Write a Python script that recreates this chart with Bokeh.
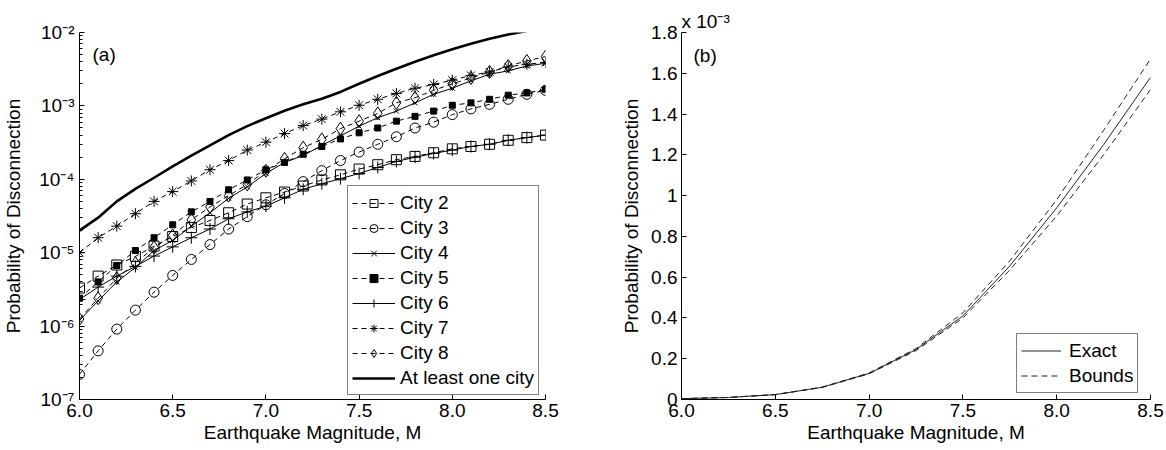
from bokeh.plotting import figure
from bokeh.layouts import row
from bokeh.models import FixedTicker, Label, Legend
from bokeh.embed import file_html
from bokeh.resources import INLINE

# ---------------- data ----------------
mag = [6.0, 6.1, 6.2, 6.3, 6.4, 6.5, 6.6, 6.7, 6.8, 6.9, 7.0, 7.1, 7.2,
       7.3, 7.4, 7.5, 7.6, 7.7, 7.8, 7.9, 8.0, 8.1, 8.2, 8.3, 8.4, 8.5]

city2 = [3.3e-6, 4.8e-6, 6.8e-6, 8.9e-6, 1.23e-5, 1.66e-5, 2.2e-5, 2.75e-5, 3.5e-5,
         4.6e-5, 5.6e-5, 6.7e-5, 8.1e-5, 9.8e-5, 1.15e-4, 1.38e-4, 1.58e-4, 1.85e-4,
         2.05e-4, 2.3e-4, 2.6e-4, 2.8e-4, 3.0e-4, 3.4e-4, 3.7e-4, 4.0e-4]
city3 = [2.2e-7, 4.6e-7, 9.1e-7, 1.65e-6, 2.9e-6, 4.9e-6, 8.1e-6, 1.29e-5, 2.1e-5,
         3.1e-5, 4.5e-5, 6.4e-5, 9.3e-5, 1.31e-4, 1.8e-4, 2.35e-4, 3.0e-4, 3.8e-4,
         5.0e-4, 6.0e-4, 7.6e-4, 9.1e-4, 1.05e-3, 1.23e-3, 1.44e-3, 1.63e-3]
city4 = [1.2e-6, 2.2e-6, 4.0e-6, 6.3e-6, 1.07e-5, 1.47e-5, 2.3e-5, 3.5e-5, 5.5e-5,
         7.9e-5, 1.2e-4, 1.7e-4, 2.1e-4, 2.9e-4, 3.9e-4, 5.3e-4, 6.9e-4, 8.5e-4,
         1.1e-3, 1.44e-3, 1.74e-3, 2.2e-3, 2.7e-3, 3.0e-3, 3.5e-3, 3.8e-3]
city5 = [2.4e-6, 4.0e-6, 6.7e-6, 1.07e-5, 1.6e-5, 2.4e-5, 3.6e-5, 5.0e-5, 7.2e-5,
         9.8e-5, 1.35e-4, 1.7e-4, 2.2e-4, 2.8e-4, 3.55e-4, 4.3e-4, 5.0e-4, 6.2e-4,
         7.2e-4, 8.5e-4, 1.02e-3, 1.1e-3, 1.23e-3, 1.4e-3, 1.5e-3, 1.68e-3]
city6 = [2.3e-6, 3.4e-6, 4.8e-6, 6.5e-6, 9.0e-6, 1.2e-5, 1.6e-5, 2.1e-5, 2.9e-5,
         3.6e-5, 4.3e-5, 5.6e-5, 7.3e-5, 8.7e-5, 1.02e-4, 1.2e-4, 1.45e-4, 1.75e-4,
         2.0e-4, 2.25e-4, 2.5e-4, 2.8e-4, 3.0e-4, 3.4e-4, 3.7e-4, 4.0e-4]
city7 = [1.0e-5, 1.6e-5, 2.3e-5, 3.4e-5, 5.0e-5, 6.8e-5, 9.5e-5, 1.35e-4, 1.8e-4,
         2.5e-4, 3.2e-4, 4.2e-4, 5.4e-4, 6.6e-4, 8.3e-4, 1.02e-3, 1.23e-3, 1.48e-3,
         1.74e-3, 1.96e-3, 2.24e-3, 2.6e-3, 2.9e-3, 3.4e-3, 3.7e-3, 3.9e-3]
city8 = [1.25e-6, 2.4e-6, 4.5e-6, 7.2e-6, 1.18e-5, 1.72e-5, 2.8e-5, 4.2e-5, 6.0e-5,
         8.5e-5, 1.31e-4, 1.9e-4, 2.7e-4, 3.5e-4, 4.9e-4, 6.2e-4, 7.9e-4, 1.1e-3,
         1.29e-3, 1.63e-3, 2.0e-3, 2.4e-3, 2.9e-3, 3.5e-3, 4.1e-3, 4.7e-3]
mag_any = [6.0, 6.1, 6.2, 6.3, 6.4, 6.5, 6.6, 6.7, 6.8, 6.9, 7.0, 7.1, 7.2,
           7.3, 7.4, 7.5, 7.6, 7.7, 7.8, 7.9, 8.0, 8.1, 8.2, 8.3, 8.4]
any_city = [2.0e-5, 3.0e-5, 5.0e-5, 7.4e-5, 1.05e-4, 1.5e-4, 2.1e-4, 2.9e-4, 4.0e-4,
            5.3e-4, 6.8e-4, 8.6e-4, 1.05e-3, 1.25e-3, 1.55e-3, 2.0e-3, 2.55e-3, 3.2e-3,
            4.0e-3, 4.9e-3, 5.9e-3, 7.0e-3, 8.2e-3, 9.4e-3, 1.05e-2]

# panel (b): values in units of 1e-3
mag_b = [6.0, 6.25, 6.5, 6.75, 7.0, 7.25, 7.5, 7.75, 8.0, 8.25, 8.5]
exact = [0.004, 0.010, 0.024, 0.060, 0.128, 0.245, 0.41, 0.655, 0.94, 1.25, 1.58]
upper = [0.004, 0.010, 0.024, 0.061, 0.130, 0.250, 0.425, 0.68, 0.98, 1.32, 1.67]
lower = [0.004, 0.010, 0.024, 0.059, 0.126, 0.240, 0.400, 0.635, 0.90, 1.20, 1.52]

x_ticks = [6.0, 6.5, 7.0, 7.5, 8.0, 8.5]
x_labels = ["6.0", "6.5", "7.0", "7.5", "8.0", "8.5"]
y_ticks_a = [1e-7, 1e-6, 1e-5, 1e-4, 1e-3, 1e-2]
y_labels_a = ["10\u207b\u2077", "10\u207b\u2076", "10\u207b\u2075",
              "10\u207b\u2074", "10\u207b\u00b3", "10\u207b\u00b2"]
y_ticks_b = [0, 0.2, 0.4, 0.6, 0.8, 1.0, 1.2, 1.4, 1.6, 1.8]
y_labels_b = ["0", "0.2", "0.4", "0.6", "0.8", "1", "1.2", "1.4", "1.6", "1.8"]

FONT = "Liberation Sans"
FS = "19px"


def style_axes(p):
    for ax in (p.xaxis[0], p.yaxis[0]):
        ax.axis_line_color = "black"
        ax.major_tick_line_color = "black"
        ax.minor_tick_line_color = "black"
        ax.major_tick_in = 5
        ax.major_tick_out = 0
        ax.minor_tick_in = 3
        ax.minor_tick_out = 0
        ax.major_label_text_font = FONT
        ax.major_label_text_font_size = FS
        ax.major_label_text_color = "black"
        ax.axis_label_text_font = FONT
        ax.axis_label_text_font_size = FS
        ax.axis_label_text_font_style = "normal"
        ax.axis_label_text_color = "black"
    p.xaxis[0].major_label_standoff = 4
    p.xaxis[0].axis_label_standoff = 2
    p.xaxis[0].ticker = FixedTicker(ticks=x_ticks)
    p.xaxis[0].major_label_overrides = dict(zip(x_ticks, x_labels))
    p.xgrid.visible = False
    p.ygrid.visible = False
    p.outline_line_color = None


# ---------------- panel (a) ----------------
p1 = figure(width=580, height=450, y_axis_type="log", x_range=(6.0, 8.5),
            y_range=(1e-7, 1e-2), output_backend="svg", toolbar_location=None,
            min_border_left=75, min_border_right=35, min_border_top=31,
            min_border_bottom=50)
p1.xaxis.axis_label = "Earthquake Magnitude, M"
p1.yaxis.axis_label = "Probability of Disconnection"
minor_a = [m * d for d in y_ticks_a[:-1] for m in range(2, 10)]
p1.yaxis.ticker = FixedTicker(ticks=y_ticks_a, minor_ticks=minor_a)
p1.yaxis.major_label_overrides = dict(zip(y_ticks_a, y_labels_a))
p1.yaxis.major_label_standoff = 5
p1.yaxis.axis_label_standoff = 12
style_axes(p1)

DASH = "5 4"
series = [
    ("City 2", city2, "dashed", "square", 10, None),
    ("City 3", city3, "dashed", "circle", 10, None),
    ("City 4", city4, "solid", "x", 7, None),
    ("City 5", city5, "dashed", "square", 6, "black"),
    ("City 6", city6, "solid", "cross", 12, None),
    ("City 7", city7, "dashed", "asterisk", 11, None),
    ("City 8", city8, "dashed", "diamond", 13, None),
]
items = []
for name, vals, style, marker, size, fill in series:
    dash = DASH if style == "dashed" else "solid"
    r1 = p1.line(mag, vals, line_color="black", line_width=1, line_dash=dash)
    r2 = p1.scatter(mag, vals, marker=marker, size=size, line_color="black",
                    line_width=1, fill_color=fill)
    items.append((name, [r1, r2]))
r_any = p1.line(mag_any, any_city, line_color="black", line_width=2.6)
items.append(("At least one city", [r_any]))

leg1 = Legend(items=items, location=(268, 4))
leg1.label_text_font = FONT
leg1.label_text_font_size = FS
leg1.label_text_color = "black"
leg1.glyph_width = 43
leg1.glyph_height = 20
leg1.label_height = 25
leg1.label_standoff = 5
leg1.spacing = 0
leg1.padding = 4
leg1.margin = 0
leg1.border_line_color = "black"
leg1.border_line_width = 1
leg1.background_fill_alpha = 1
p1.add_layout(leg1)

p1.add_layout(Label(x=13, y=345, x_units="screen", y_units="screen", text="(a)",
                    text_font=FONT, text_font_size=FS, text_baseline="middle",
                    text_color="black"))

# ---------------- panel (b) ----------------
p2 = figure(width=586, height=450, x_range=(6.0, 8.5), y_range=(0, 1.8),
            output_backend="svg", toolbar_location=None,
            min_border_left=101, min_border_right=16, min_border_top=32,
            min_border_bottom=51)
p2.title.text = "x 10\u207b\u00b3"
p2.title.text_font = FONT
p2.title.text_font_size = FS
p2.title.text_font_style = "normal"
p2.title.text_color = "black"
p2.title.align = "left"
p2.title.offset = 0
p2.title.standoff = 2
p2.xaxis.axis_label = "Earthquake Magnitude, M"
p2.yaxis.axis_label = "Probability of Disconnection"
p2.yaxis.ticker = FixedTicker(ticks=y_ticks_b)
p2.yaxis.major_label_overrides = dict(zip(y_ticks_b, y_labels_b))
p2.yaxis.major_label_standoff = 4
p2.yaxis.axis_label_standoff = 6
style_axes(p2)

re = p2.line(mag_b, exact, line_color="#222222", line_width=1)
ru = p2.line(mag_b, upper, line_color="#222222", line_width=1, line_dash="6 4")
rl = p2.line(mag_b, lower, line_color="#222222", line_width=1, line_dash="6 4")
leg2 = Legend(items=[("Exact", [re]), ("Bounds", [ru])], location=(335, 6))
leg2.label_text_font = FONT
leg2.label_text_font_size = FS
leg2.label_text_color = "black"
leg2.glyph_width = 40
leg2.glyph_height = 25
leg2.label_height = 25
leg2.label_standoff = 8
leg2.spacing = 0
leg2.padding = 4
leg2.margin = 0
leg2.border_line_color = "black"
leg2.border_line_width = 1.5
leg2.background_fill_alpha = 1
p2.add_layout(leg2)

p2.add_layout(Label(x=12, y=344, x_units="screen", y_units="screen", text="(b)",
                    text_font=FONT, text_font_size=FS, text_baseline="middle",
                    text_color="black"))

layout = row(p1, p2, spacing=0)
open("out.html", "w").write(file_html(layout, INLINE))
